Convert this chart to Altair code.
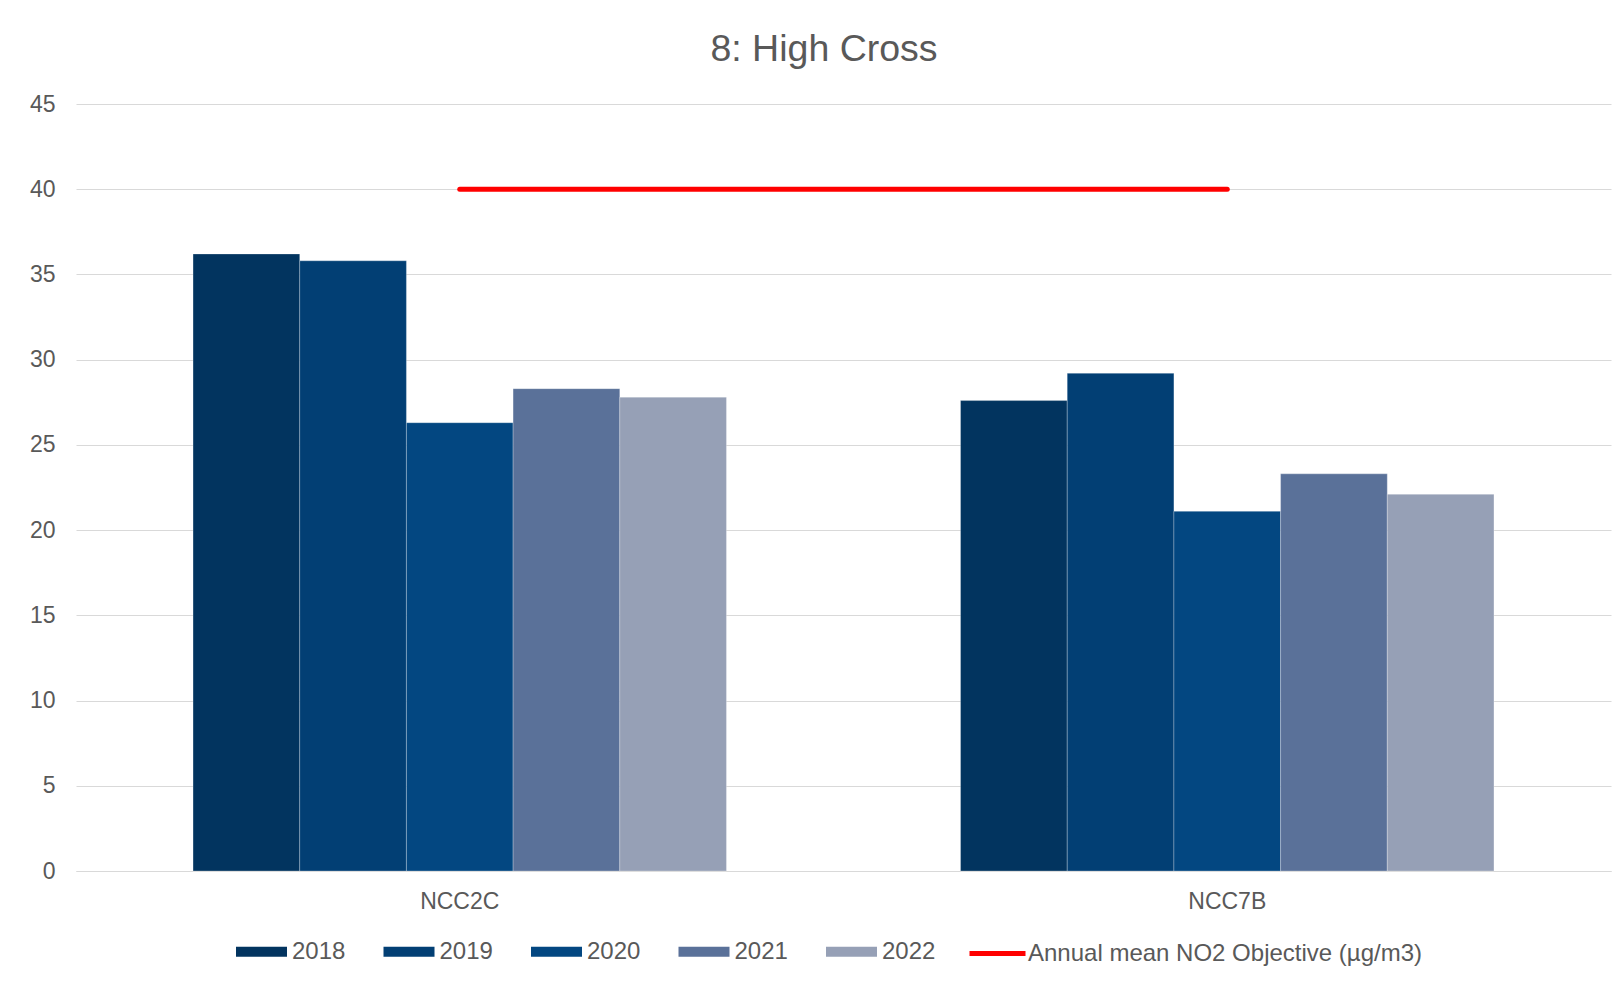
import altair as alt
import pandas as pd

# ---- data ----
sites = ["NCC2C", "NCC7B"]
years = ["2018", "2019", "2020", "2021", "2022"]
ncc2c_values = [36.2, 35.8, 26.3, 28.3, 27.8]
ncc7b_values = [27.6, 29.2, 21.1, 23.3, 22.1]
objective_value = 40
objective_label = "Annual mean NO2 Objective (µg/m3)"
y_ticks = [0, 5, 10, 15, 20, 25, 30, 35, 40, 45]
chart_title = "8: High Cross"

# ---- styling ----
year_colors = ["#02345F", "#023F74", "#034781", "#5A7199", "#96A0B6"]
objective_color = "#FF0000"
text_color = "#595959"
grid_color = "#D9D9D9"
font = "Liberation Sans"

bars_df = pd.DataFrame({
    "site": [s for s in sites for _ in years],
    "year": years * len(sites),
    "value": ncc2c_values + ncc7b_values,
})
line_df = pd.DataFrame({
    "site": sites,
    "value": [objective_value] * len(sites),
    "series": [objective_label] * len(sites),
})

x_scale = alt.Scale(domain=sites, paddingInner=0.305, paddingOuter=0.1525)
y_scale = alt.Scale(domain=[0, 45], nice=False)

bars = alt.Chart(bars_df).mark_bar(
    stroke="#FFFFFF", strokeWidth=0.75, strokeOpacity=0.35
).encode(
    x=alt.X("site:N", scale=x_scale, sort=sites,
            axis=alt.Axis(title=None, labelAngle=0, domain=True, domainColor=grid_color,
                          domainWidth=1, ticks=False, grid=False, labelPadding=19,
                          labelFontSize=23, labelColor=text_color, labelFont=font)),
    xOffset=alt.XOffset("year:N", sort=years,
                        scale=alt.Scale(domain=years, paddingInner=0, paddingOuter=0)),
    y=alt.Y("value:Q", scale=y_scale,
            axis=alt.Axis(title=None, values=y_ticks, domain=False, ticks=False, grid=True,
                          gridColor=grid_color, gridWidth=1, labelPadding=21,
                          labelFontSize=23, labelColor=text_color, labelFont=font)),
    fill=alt.Fill("year:N", sort=years,
                  scale=alt.Scale(domain=years, range=year_colors),
                  legend=alt.Legend(title=None, orient="none", direction="horizontal",
                                    legendX=160, legendY=822, padding=0,
                                    symbolType="M-1,-0.2H1V0.2H-1Z", symbolSize=2601,
                                    symbolStrokeWidth=0, symbolOpacity=1,
                                    labelFontSize=24, labelColor=text_color, labelFont=font,
                                    labelOffset=5, columnPadding=37.5)),
)

line = alt.Chart(line_df).mark_line(strokeWidth=5, strokeCap="round").encode(
    x=alt.X("site:N", scale=x_scale, sort=sites),
    y=alt.Y("value:Q", scale=y_scale),
    stroke=alt.Stroke("series:N",
                      scale=alt.Scale(domain=[objective_label], range=[objective_color]),
                      legend=alt.Legend(title=None, orient="none", direction="horizontal",
                                        legendX=891, legendY=819, padding=0,
                                        symbolType="stroke", symbolSize=3136,
                                        symbolStrokeWidth=5, labelLimit=600,
                                        labelFontSize=24, labelColor=text_color,
                                        labelFont=font, labelOffset=0)),
)

chart = alt.layer(bars, line).properties(
    width=1535,
    height=767,
    padding={"left": 68, "top": 96, "right": 5, "bottom": 110},
    autosize=alt.AutoSizeParams(type="none"),
    title=alt.TitleParams(chart_title, fontSize=37.5, font=font, fontWeight="normal",
                          color=text_color, anchor="middle", frame="group", dx=-19.5,
                          baseline="alphabetic", offset=42, dy=47),
).configure_view(stroke=None)

chart.save("out.html", embed_options={"renderer": "svg", "actions": False})
